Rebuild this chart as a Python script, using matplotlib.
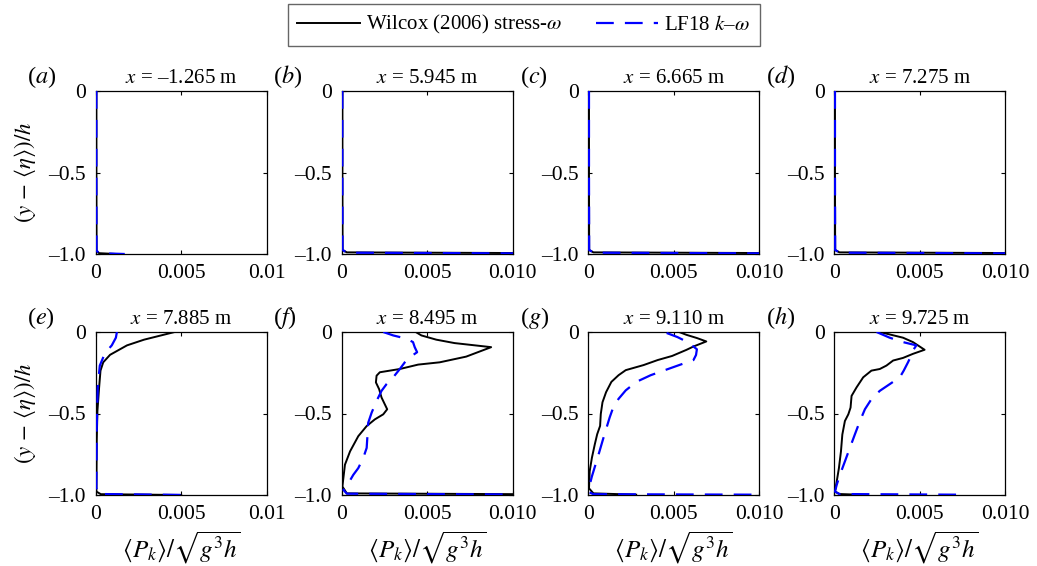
import matplotlib
matplotlib.use('Agg')
import matplotlib.pyplot as plt
from matplotlib.lines import Line2D

plt.rcParams['font.family'] = ['Liberation Serif', 'DejaVu Serif']
plt.rcParams['mathtext.fontset'] = 'stix'
plt.rcParams['font.size'] = 15

# Streamwise stations and panel letters
stations = ['–1.265', '5.945', '6.665', '7.275', '7.885', '8.495', '9.110', '9.725']
letters = ['a', 'b', 'c', 'd', 'e', 'f', 'g', 'h']

# Axis ticks
xtick_vals = [0, 0.005, 0.01]
xtick_labels_short = ['0', '0.005', '0.01']
xtick_labels_long = ['0', '0.005', '0.010']
ytick_vals = [-1.0, -0.5, 0]
ytick_labels = ['–1.0', '–0.5', '0']

# ---- Production profiles: depth (y-<eta>)/h and <P_k>/sqrt(g^3 h) ----
# (a) x = -1.265 m
wil_a_y = [0.0, -0.5, -0.98, -0.995, -1.0]
wil_a_p = [0.00004, 0.00004, 0.00005, 0.0002, 0.0012]
lf_a_y = [0.0, -0.5, -0.98, -0.995, -1.0]
lf_a_p = [0.00004, 0.00004, 0.00005, 0.0002, 0.0017]

# (b) x = 5.945 m
wil_b_y = [0.0, -0.5, -0.975, -0.99, -0.995]
wil_b_p = [0.00004, 0.00004, 0.00005, 0.0003, 0.0125]
lf_b_y = [0.0, -0.5, -0.975, -0.992, -0.997]
lf_b_p = [0.00004, 0.00004, 0.00005, 0.0003, 0.0125]

# (c) x = 6.665 m
wil_c_y = [0.0, -0.5, -0.975, -0.99, -0.995]
wil_c_p = [0.00004, 0.00004, 0.00005, 0.0003, 0.0125]
lf_c_y = [0.0, -0.5, -0.975, -0.992, -0.997]
lf_c_p = [0.00004, 0.00004, 0.00005, 0.0003, 0.0125]

# (d) x = 7.275 m
wil_d_y = [0.0, -0.5, -0.975, -0.99, -0.995]
wil_d_p = [0.00004, 0.00004, 0.00005, 0.0003, 0.0125]
lf_d_y = [0.0, -0.5, -0.975, -0.992, -0.997]
lf_d_p = [0.00004, 0.00004, 0.00005, 0.0003, 0.0125]

# (e) x = 7.885 m
wil_e_y = [0.0, -0.021, -0.047, -0.082, -0.140, -0.186, -0.237, -0.340, -0.485,
           -0.670, -0.979, -0.995, -1.0]
wil_e_p = [0.00462, 0.00382, 0.00283, 0.00183, 0.00084, 0.00044, 0.00028, 0.00020,
           0.00010, 0.00006, 0.00004, 0.0003, 0.0050]
lf_e_y = [0.0, -0.035, -0.082, -0.130, -0.206, -0.340, -0.588, -0.959, -0.994, -1.0]
lf_e_p = [0.00124, 0.00118, 0.00094, 0.00054, 0.00024, 0.00012, 0.00006, 0.00004,
          0.0002, 0.0056]

# (f) x = 8.495 m
wil_f_y = [0.0, -0.021, -0.047, -0.068, -0.093, -0.151, -0.186, -0.200, -0.227,
           -0.247, -0.268, -0.309, -0.351, -0.402, -0.474, -0.505, -0.536, -0.577,
           -0.639, -0.732, -0.814, -0.948, -0.990, -0.996]
wil_f_p = [0.00433, 0.00466, 0.00553, 0.00660, 0.00874, 0.00728, 0.00573, 0.00447,
           0.00340, 0.00223, 0.00204, 0.00200, 0.00219, 0.00233, 0.00266, 0.00243,
           0.00194, 0.00146, 0.00097, 0.00049, 0.00019, 0.00004, 0.0003, 0.0125]
lf_f_y = [0.0, -0.021, -0.041, -0.062, -0.093, -0.124, -0.155, -0.186, -0.227,
          -0.278, -0.320, -0.361, -0.423, -0.495, -0.557, -0.629, -0.711, -0.773,
          -0.835, -0.876, -0.928, -0.969, -0.992, -0.998]
lf_f_p = [0.00243, 0.00301, 0.00379, 0.00417, 0.00427, 0.00441, 0.00398, 0.00369,
          0.00340, 0.00301, 0.00262, 0.00233, 0.00204, 0.00175, 0.00155, 0.00151,
          0.00146, 0.00126, 0.00097, 0.00068, 0.00039, 0.00010, 0.0003, 0.0125]

# (g) x = 9.110 m
wil_g_y = [0.0, -0.017, -0.037, -0.058, -0.089, -0.110, -0.147, -0.172, -0.203,
           -0.234, -0.265, -0.306, -0.369, -0.431, -0.503, -0.576, -0.627, -0.689,
           -0.772, -0.855, -0.959, -0.990, -0.998]
wil_g_p = [0.00531, 0.00573, 0.00635, 0.00690, 0.00615, 0.00573, 0.00490, 0.00406,
           0.00323, 0.00219, 0.00177, 0.00135, 0.00104, 0.00083, 0.00073, 0.00069,
           0.00052, 0.00038, 0.00021, 0.00008, 0.00004, 0.0003, 0.0028]
lf_g_y = [-0.006, -0.031, -0.058, -0.089, -0.106, -0.141, -0.172, -0.203, -0.234,
          -0.265, -0.306, -0.358, -0.410, -0.462, -0.524, -0.596, -0.669, -0.741,
          -0.814, -0.886, -0.948, -0.983, -0.995, -0.998]
lf_g_p = [0.00458, 0.00521, 0.00573, 0.00615, 0.00635, 0.00630, 0.00615, 0.00531,
          0.00448, 0.00365, 0.00281, 0.00219, 0.00177, 0.00146, 0.00125, 0.00104,
          0.00083, 0.00063, 0.00042, 0.00021, 0.00006, 0.00004, 0.0003, 0.0099]

# (h) x = 9.725 m
wil_h_y = [0.0, -0.035, -0.062, -0.109, -0.134, -0.159, -0.175, -0.206, -0.227,
           -0.237, -0.278, -0.340, -0.392, -0.464, -0.505, -0.546, -0.629, -0.732,
           -0.835, -0.918, -0.979, -0.994, -0.998]
wil_h_p = [0.00266, 0.00402, 0.00460, 0.00528, 0.00460, 0.00402, 0.00344, 0.00305,
           0.00266, 0.00217, 0.00169, 0.00130, 0.00101, 0.00095, 0.00082, 0.00062,
           0.00047, 0.00039, 0.00027, 0.00014, 0.00004, 0.0003, 0.0014]
lf_h_y = [0.0, -0.035, -0.062, -0.082, -0.113, -0.144, -0.186, -0.237, -0.278,
          -0.320, -0.361, -0.412, -0.474, -0.546, -0.629, -0.711, -0.794, -0.876,
          -0.938, -0.979, -0.994, -0.998]
lf_h_p = [0.00247, 0.00324, 0.00402, 0.00480, 0.00460, 0.00450, 0.00431, 0.00406,
          0.00383, 0.00324, 0.00266, 0.00217, 0.00179, 0.00150, 0.00120, 0.00091,
          0.00062, 0.00033, 0.00014, 0.00004, 0.0003, 0.0072]

wilcox = [(wil_a_p, wil_a_y), (wil_b_p, wil_b_y), (wil_c_p, wil_c_y), (wil_d_p, wil_d_y),
          (wil_e_p, wil_e_y), (wil_f_p, wil_f_y), (wil_g_p, wil_g_y), (wil_h_p, wil_h_y)]
lf18 = [(lf_a_p, lf_a_y), (lf_b_p, lf_b_y), (lf_c_p, lf_c_y), (lf_d_p, lf_d_y),
        (lf_e_p, lf_e_y), (lf_f_p, lf_f_y), (lf_g_p, lf_g_y), (lf_h_p, lf_h_y)]

W, H = 1037, 566
fig = plt.figure(figsize=(W / 100, H / 100), dpi=100)

col_left_px = [95.7, 341.7, 588.3, 834.3]
row_top_px = [91, 332]
ax_w_px, ax_h_px = 171, 163

blue_dash = (0, (8.0, 5.0))

for i in range(8):
    r, c = divmod(i, 4)
    left = col_left_px[c] / W
    bottom = 1 - (row_top_px[r] + ax_h_px) / H
    ax = fig.add_axes([left, bottom, ax_w_px / W, ax_h_px / H])

    wp, wy = wilcox[i]
    lp, ly = lf18[i]
    ax.plot(wp, wy, color='black', lw=1.4, zorder=2)
    ax.plot(lp, ly, color='#0000ff', lw=1.6, linestyle=blue_dash, zorder=3)

    ax.set_xlim(0, 0.01)
    ax.set_ylim(-1.0, 0)
    ax.set_xticks(xtick_vals)
    ax.set_xticklabels(xtick_labels_short if c == 0 else xtick_labels_long)
    ax.set_yticks(ytick_vals)
    ax.set_yticklabels(ytick_labels)
    ax.tick_params(direction='in', length=3, width=0.8, top=True, right=True,
                   labelsize=15.5, pad=7)
    for s in ax.spines.values():
        s.set_linewidth(0.9)

    ax.text(0.5, 1.05, r'$x$ = ' + stations[i] + ' m', transform=ax.transAxes,
            ha='center', va='baseline', fontsize=15)
    ax.text(-0.40, 1.05, '(' + r'$' + letters[i] + r'$' + ')', transform=ax.transAxes,
            ha='left', va='baseline', fontsize=17.5)

    if c == 0:
        ax.set_ylabel(r'$(y\,-\,\langle\eta\rangle)/h$', fontsize=16.5)
        ax.yaxis.set_label_coords(-0.335, 0.5)
    if r == 1:
        ax.set_xlabel(r'$\langle P_k\rangle/\sqrt{g^3h}$', fontsize=18)
        ax.xaxis.set_label_coords(0.5, -0.21)

handles = [Line2D([], [], color='black', lw=1.4),
           Line2D([], [], color='#0000ff', lw=1.6, linestyle=blue_dash)]
names = [r'Wilcox (2006) stress-$\omega$', r'LF18 $k$–$\omega$']
leg = fig.legend(handles, names, loc='center', bbox_to_anchor=(0.505, 0.956), ncol=2,
                 frameon=True, fancybox=False, edgecolor='0.25', fontsize=15,
                 handlelength=3.0, handletextpad=0.3, columnspacing=1.6,
                 borderpad=0.45, borderaxespad=0)
leg.get_frame().set_linewidth(1.0)

fig.savefig('out.png', dpi=100)
